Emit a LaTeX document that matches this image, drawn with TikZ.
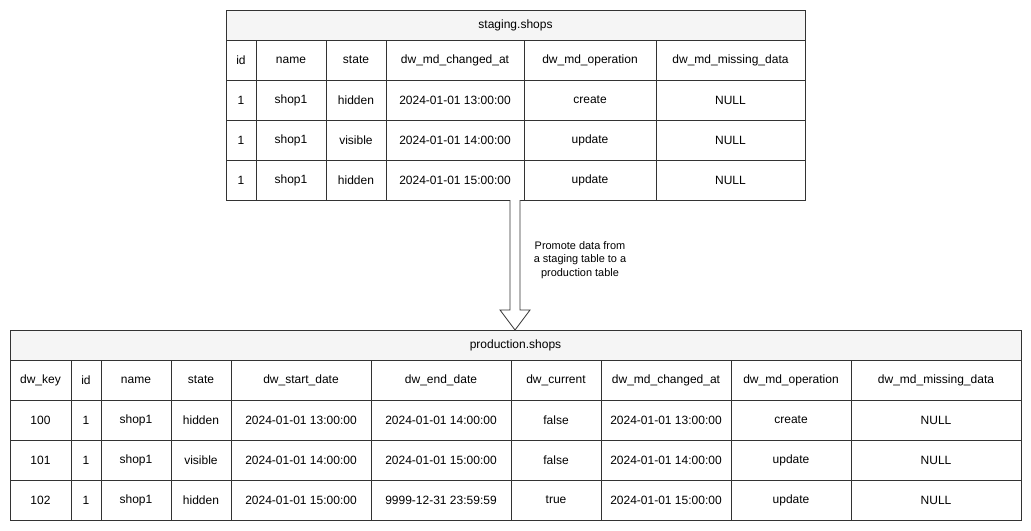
\documentclass[tikz,border=0pt]{standalone}
\usepackage{fontspec}
\setmainfont{Liberation Sans}
\begin{document}
\begin{tikzpicture}[x=0.75pt,y=-0.75pt,
  cell/.style={draw=black!80,line width=0.6pt,inner sep=0,font=\fontsize{9}{11}\selectfont},
  ttl/.style={cell,fill=black!4},
  lbl/.style={font=\fontsize{8.2}{10}\selectfont,align=center}]
\useasboundingbox (0,0) rectangle (1031,531);
% top table
\node[ttl,minimum width=579*0.75pt,minimum height=30*0.75pt] (st) at (515.5,25) {staging.shops};
\def\tcols{226,256,326,386,524,656,805}
\foreach \r/\ya/\yb/\vals in {h/40/80/{id,name,state,dw\_md\_changed\_at,dw\_md\_operation,dw\_md\_missing\_data},
  a/80/120/{1,shop1,hidden,2024-01-01 13:00:00,create,NULL},
  b/120/160/{1,shop1,visible,2024-01-01 14:00:00,update,NULL},
  c/160/200/{1,shop1,hidden,2024-01-01 15:00:00,update,NULL}}{
  \foreach \v [count=\i] in \vals {
    \pgfmathsetmacro\xa{{\tcols}[\i-1]}\pgfmathsetmacro\xb{{\tcols}[\i]}
    \node[cell,minimum width={(\xb-\xa)*0.75pt},minimum height={(\yb-\ya)*0.75pt}] (s\r\i) at ({(\xa+\xb)/2},{(\ya+\yb)/2}) {\v};
  }}
% bottom table
\node[ttl,minimum width=1011*0.75pt,minimum height=30*0.75pt] (pt) at (515.5,345) {production.shops};
\def\bcols{10,71,101,171,231,371,511,601,731,851,1021}
\foreach \r/\ya/\yb/\vals in {h/360/400/{dw\_key,id,name,state,dw\_start\_date,dw\_end\_date,dw\_current,dw\_md\_changed\_at,dw\_md\_operation,dw\_md\_missing\_data},
  a/400/440/{100,1,shop1,hidden,2024-01-01 13:00:00,2024-01-01 14:00:00,false,2024-01-01 13:00:00,create,NULL},
  b/440/480/{101,1,shop1,visible,2024-01-01 14:00:00,2024-01-01 15:00:00,false,2024-01-01 14:00:00,update,NULL},
  c/480/520/{102,1,shop1,hidden,2024-01-01 15:00:00,9999-12-31 23:59:59,true,2024-01-01 15:00:00,update,NULL}}{
  \foreach \v [count=\i] in \vals {
    \pgfmathsetmacro\xa{{\bcols}[\i-1]}\pgfmathsetmacro\xb{{\bcols}[\i]}
    \node[cell,minimum width={(\xb-\xa)*0.75pt},minimum height={(\yb-\ya)*0.75pt}] (p\r\i) at ({(\xa+\xb)/2},{(\ya+\yb)/2}) {\v};
  }}
% block arrow
\draw[black!80,line width=0.6pt,fill=white] (510,200) -- (510,310) -- (500,310) -- (515,330) -- (530,310) -- (520,310) -- (520,200);
\node[lbl] (lab) at (580,260) {Promote data from\\a staging table to a\\production table};
\end{tikzpicture}
\end{document}
